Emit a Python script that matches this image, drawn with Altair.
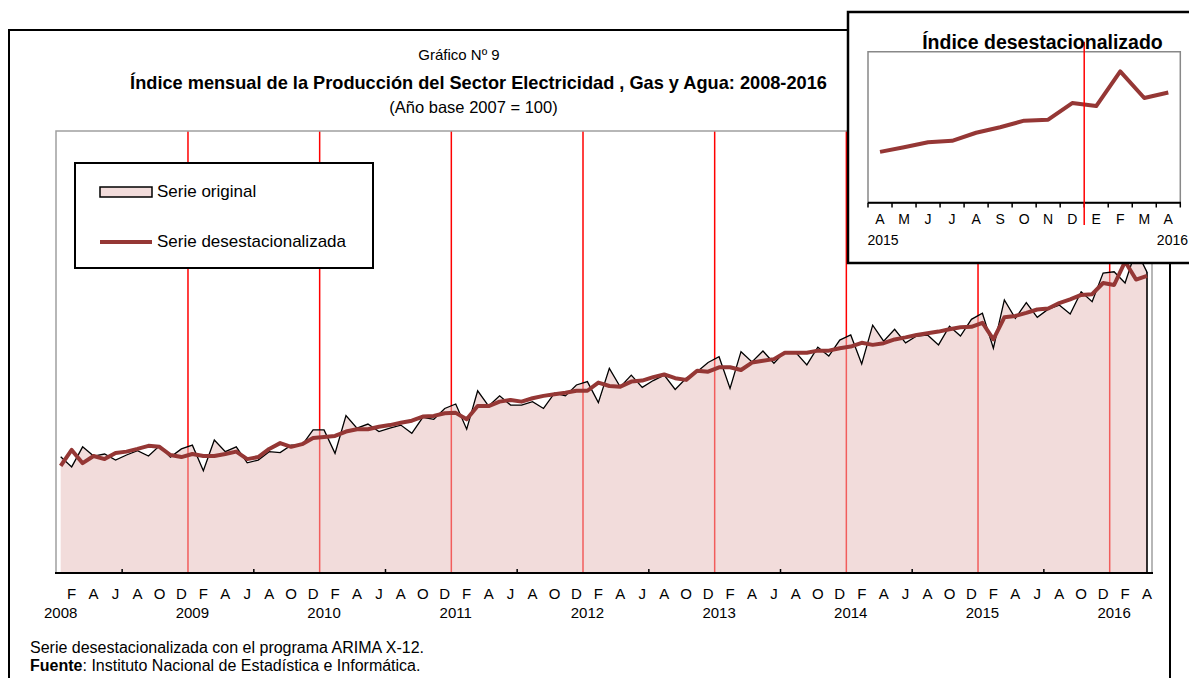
import altair as alt
import pandas as pd

# ---------------- data ----------------
years = [2008, 2009, 2010, 2011, 2012, 2013, 2014, 2015, 2016]
month_letters = ["F", "A", "J", "A", "O", "D"]  # Feb, Apr, Jun, Aug, Oct, Dec

serie_original = [
    104.2, 101.2, 107.1, 104.4, 105.0, 103.2, 104.7, 106.0, 104.4, 107.4, 104.1, 106.5,
    107.6, 100.1, 109.1, 105.7, 107.1, 102.4, 103.2, 105.7, 105.4, 107.6, 107.6, 112.1,
    112.1, 105.2, 116.3, 112.6, 113.8, 111.6, 112.6, 113.5, 111.1, 115.8, 115.2, 118.4,
    119.7, 112.3, 123.6, 119.1, 122.1, 119.4, 119.4, 120.4, 118.4, 122.9, 122.1, 125.3,
    126.3, 120.1, 130.2, 124.7, 128.2, 124.6, 126.6, 128.2, 124.0, 127.3, 129.2, 131.9,
    133.6, 124.3, 135.1, 132.1, 135.3, 131.7, 135.1, 134.8, 131.2, 136.4, 133.8, 138.5,
    140.0, 131.5, 142.9, 138.2, 141.7, 137.7, 139.7, 140.0, 137.1, 142.6, 139.7, 144.6,
    146.4, 136.1, 150.3, 144.9, 149.5, 145.2, 147.6, 148.8, 146.2, 152.7, 149.8, 158.2,
    158.6, 155.3, 165.0, 158.5,
]
serie_desest = [
    101.5, 106.2, 102.3, 104.4, 103.5, 105.3, 105.7, 106.5, 107.4, 107.1, 104.7, 104.1,
    105.0, 104.4, 104.4, 105.0, 105.7, 103.5, 104.1, 106.5, 108.2, 107.1, 107.9, 109.7,
    110.0, 110.3, 111.6, 112.3, 112.3, 113.0, 113.5, 114.2, 114.8, 116.0, 116.2, 117.0,
    117.1, 115.2, 119.1, 119.1, 120.4, 120.9, 120.4, 121.4, 122.1, 122.6, 123.0, 123.6,
    123.6, 126.0, 125.0, 124.8, 126.3, 126.6, 127.6, 128.4, 127.3, 126.8, 129.5, 129.2,
    130.5, 130.5, 129.7, 131.9, 132.4, 132.9, 134.8, 134.8, 134.8, 135.4, 135.4, 136.1,
    136.6, 137.7, 137.1, 137.6, 138.7, 139.3, 140.0, 140.5, 141.0, 141.7, 142.3, 142.4,
    143.6, 138.7, 145.2, 145.6, 146.5, 147.5, 147.8, 149.4, 150.5, 151.8, 152.0, 155.3,
    154.7, 161.6, 156.3, 157.4,
]
inset_labels = ["A", "M", "J", "J", "A", "S", "O", "N", "D", "E", "F", "M", "A"]
inset_years = ["2015", "2016"]

# ---------------- styling ----------------
FONT = "Liberation Sans, Arial, Helvetica, sans-serif"
BROWN = "#953735"
PINK = "#e6b9b8"

XM = alt.Scale(domain=[0, 99], range=[52.7, 1139.0], nice=False, zero=False)
YM = alt.Scale(domain=[70, 200], range=[565, 123], nice=False, zero=False)
XI = alt.Scale(domain=[-0.5, 12.5], range=[860, 1172.3], nice=False, zero=False)
YI = alt.Scale(domain=[135.5, 165.5], range=[194.7, 43.7], nice=False, zero=False)

n = len(serie_original)
df = pd.DataFrame({"i": list(range(n)), "orig": serie_original, "des": serie_desest})
df_end = df[df["i"] == n - 1]
df_red = pd.DataFrame({"p": [12 * (y - 2008) - 0.4 for y in years[1:]]})
df_tick = pd.DataFrame({"p": [12 * k + 5.6 for k in range(8)]})
df_mlab = pd.DataFrame({
    "i": [i for i in range(n) if i % 2 == 1],
    "t": [month_letters[(i % 12) // 2] for i in range(n) if i % 2 == 1],
})
df_ylab = pd.DataFrame({"i": [12 * k for k in range(len(years))], "t": [str(y) for y in years]})

df_in = pd.DataFrame({"k": list(range(13)), "v": serie_desest[-13:], "t": inset_labels})
df_in_tick = pd.DataFrame({"p": [k - 0.5 for k in range(14)]})
df_in_red = pd.DataFrame({"p": [8.5]})
one = pd.DataFrame({"a": [0]})


def X(field, scale):
    return alt.X(field, scale=scale, axis=None)


def Y(field, scale):
    return alt.Y(field, scale=scale, axis=None)


def box(x, x2, y, y2, fill=None, stroke="black", sw=1.0):
    kw = dict(stroke=stroke, strokeWidth=sw)
    if fill is None:
        kw["fillOpacity"] = 0
        kw["fill"] = "white"
    else:
        kw["fill"] = fill
    return alt.Chart(one).mark_rect(**kw).encode(
        x=alt.value(x), x2=alt.value(x2), y=alt.value(y), y2=alt.value(y2))


def text(s, x, y, size, bold=False, align="center", baseline="middle", color="black"):
    return alt.Chart(one).mark_text(
        text=s, fontSize=size, font=FONT, fontWeight="bold" if bold else "normal",
        align=align, baseline=baseline, color=color,
    ).encode(x=alt.value(x), y=alt.value(y))


def hline(x, x2, y, color="black", sw=1.0):
    return alt.Chart(one).mark_rule(color=color, strokeWidth=sw).encode(
        x=alt.value(x), x2=alt.value(x2), y=alt.value(y))


layers = []

# outer frame of the main graphic
layers.append(box(1, 1162, 22, 720, sw=2))

# year separators (red)
layers.append(alt.Chart(df_red).mark_rule(color="#ff0000", strokeWidth=1.5).encode(
    x=X("p:Q", XM), y=alt.value(123), y2=alt.value(565)))

# area (serie original)
layers.append(alt.Chart(df).mark_area(color=PINK, opacity=0.5).encode(
    x=X("i:Q", XM), y=Y("orig:Q", YM), y2=alt.Y2(datum=70)))
layers.append(alt.Chart(df).mark_line(color="black", strokeWidth=1.3).encode(
    x=X("i:Q", XM), y=Y("orig:Q", YM)))
layers.append(alt.Chart(df_end).mark_rule(color="black", strokeWidth=1.6).encode(
    x=X("i:Q", XM), y=Y("orig:Q", YM), y2=alt.Y2(datum=70)))

# serie desestacionalizada
layers.append(alt.Chart(df).mark_line(color=BROWN, strokeWidth=4, strokeJoin="round").encode(
    x=X("i:Q", XM), y=Y("des:Q", YM)))

# plot frame + axis
layers.append(box(48, 1144, 123, 565, stroke="#a0a0a0", sw=1.5))
layers.append(hline(47, 1145, 565, sw=2))
layers.append(alt.Chart(df_tick).mark_rule(color="black", strokeWidth=1.5).encode(
    x=X("p:Q", XM), y=alt.value(561), y2=alt.value(565)))

# axis labels
layers.append(alt.Chart(df_mlab).mark_text(fontSize=15, font=FONT, baseline="middle").encode(
    x=X("i:Q", XM), y=alt.value(586), text="t:N"))
layers.append(alt.Chart(df_ylab).mark_text(fontSize=15, font=FONT, baseline="middle").encode(
    x=X("i:Q", XM), y=alt.value(605), text="t:N"))

# titles
layers.append(text("Gráfico Nº 9", 451, 47, 15))
layers.append(text("Índice mensual de la Producción del Sector Electricidad , Gas y Agua: 2008-2016",
                   470.5, 76, 18.2, bold=True))
layers.append(text("(Año base 2007 = 100)", 465.5, 100, 16.5))

# footer
layers.append(text("Serie desestacionalizada con el programa ARIMA X-12.", 22, 639.5, 16, align="left"))
layers.append(text("Fuente", 22, 657.5, 16, bold=True, align="left"))
layers.append(text(": Instituto Nacional de Estadística e Informática.", 74.5, 657.5, 16, align="left"))

# legend
layers.append(box(67, 365, 155, 260, fill="white", sw=2))
layers.append(box(92, 144, 179, 189, fill="#f2dcdb", sw=1.5))
layers.append(text("Serie original", 149, 184, 17, align="left"))
layers.append(hline(92, 144, 234, color=BROWN, sw=4))
layers.append(text("Serie desestacionalizada", 149, 234, 17, align="left"))

# ---------------- inset ----------------
layers.append(box(840, 1240, 4, 255, fill="white", sw=2.5))
layers.append(box(860, 1172.3, 43.7, 194.7, stroke="#888888", sw=1.5))
layers.append(alt.Chart(df_in).mark_line(color=BROWN, strokeWidth=4, strokeJoin="round").encode(
    x=X("k:Q", XI), y=Y("v:Q", YI)))
layers.append(hline(860, 1173, 194.7, sw=2))
layers.append(alt.Chart(df_in_tick).mark_rule(color="black", strokeWidth=1.5).encode(
    x=X("p:Q", XI), y=alt.value(194.7), y2=alt.value(199.5)))
layers.append(alt.Chart(df_in_red).mark_rule(color="#ff0000", strokeWidth=1.5).encode(
    x=X("p:Q", XI), y=alt.value(33.7), y2=alt.value(217)))
layers.append(alt.Chart(df_in).mark_text(fontSize=14, font=FONT, baseline="middle").encode(
    x=X("k:Q", XI), y=alt.value(212), text="t:N"))
layers.append(text(inset_years[0], 875, 232.7, 14))
layers.append(text(inset_years[1], 1180, 232.7, 14, align="right"))
layers.append(text("Índice desestacionalizado", 1034.5, 41, 19.5, bold=True, baseline="alphabetic"))

chart = alt.layer(*layers).resolve_scale(x="independent", y="independent").properties(
    width=1181, height=670, padding=0, autosize=alt.AutoSizeParams(type="none"),
).configure_view(stroke=None)

chart.save("out.html", embed_options={"renderer": "svg", "actions": False})
